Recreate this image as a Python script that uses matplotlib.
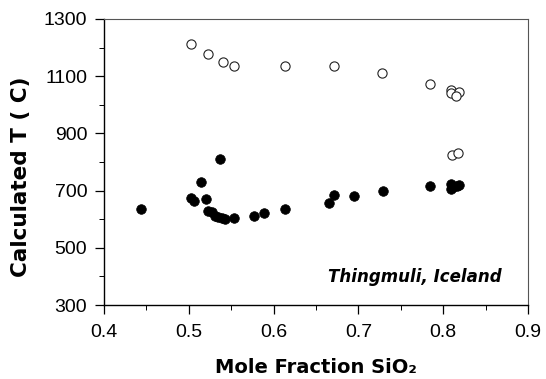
import matplotlib
matplotlib.use("Agg")
import matplotlib.pyplot as plt
from matplotlib.ticker import MultipleLocator

plt.rcParams['font.family'] = ['Liberation Sans', 'DejaVu Sans']

# Open circles (upper series)
open_x = [0.503, 0.523, 0.540, 0.553, 0.6135, 0.671, 0.728, 0.784, 0.809, 0.809, 0.8186, 0.815, 0.810, 0.8175]
open_y = [1211, 1179, 1151, 1135, 1136, 1136, 1110, 1072, 1052, 1042, 1046, 1031, 824, 832]

# Filled circles (lower series)
fill_x = [0.4436, 0.5026, 0.506, 0.5144, 0.5207, 0.537, 0.523, 0.527, 0.531, 0.535, 0.5395, 0.5427,
          0.553, 0.577, 0.589, 0.614, 0.665, 0.6716, 0.695, 0.7285, 0.7848, 0.809, 0.809, 0.812, 0.816, 0.819]
fill_y = [637, 675, 665, 729, 672, 809, 630, 624, 612, 609, 605, 602,
          605, 612, 620, 637, 658, 684, 680, 699, 716, 722, 707, 713, 716, 720]

xticks = [0.4, 0.5, 0.6, 0.7, 0.8, 0.9]
yticks = [300, 500, 700, 900, 1100, 1300]

W, H = 546, 379
fig = plt.figure(figsize=(W / 100, H / 100), dpi=100)
ax = fig.add_axes([104 / W, 1 - 305 / H, (528 - 104) / W, (305 - 19) / H])

ax.scatter(open_x, open_y, s=44, facecolors='white', edgecolors='#222222', linewidths=0.8, zorder=3)
ax.scatter(fill_x, fill_y, s=48, facecolors='black', edgecolors='black', linewidths=0.5, zorder=4)

ax.set_xlim(0.4, 0.9)
ax.set_ylim(300, 1300)
ax.set_xticks(xticks)
ax.set_xticklabels([f"{v:.1f}" for v in xticks])
ax.set_yticks(yticks)
ax.set_yticklabels([str(v) for v in yticks])
ax.xaxis.set_minor_locator(MultipleLocator(0.05))
ax.yaxis.set_minor_locator(MultipleLocator(100))
ax.tick_params(which='major', direction='out', length=6.5, width=0.9, labelsize=14)
ax.tick_params(axis='x', which='major', pad=7.5)
ax.tick_params(axis='y', which='major', pad=5.5)
ax.tick_params(which='minor', direction='out', length=3.6, width=0.7)

for side in ['left', 'bottom']:
    ax.spines[side].set_linewidth(1.0)
for side in ['top', 'right']:
    ax.spines[side].set_linewidth(0.8)
    ax.spines[side].set_color('#555555')

label_font = ['DejaVu Sans']
fig.text(316 / W, 1 - 373 / H, "Mole Fraction SiO\u2082", fontsize=14, fontweight='bold',
         family=label_font, ha='center', va='baseline')
fig.text(21 / W, 1 - 176.5 / H, "Calculated T ( C)", fontsize=15.5, fontweight='bold',
         family=label_font, ha='center', va='center', rotation=90)

ax.text(0.869, 380, "Thingmuli, Iceland", fontsize=12, fontweight='bold', fontstyle='italic',
        family=label_font, ha='right', va='baseline')

fig.savefig("out.png", dpi=100)
